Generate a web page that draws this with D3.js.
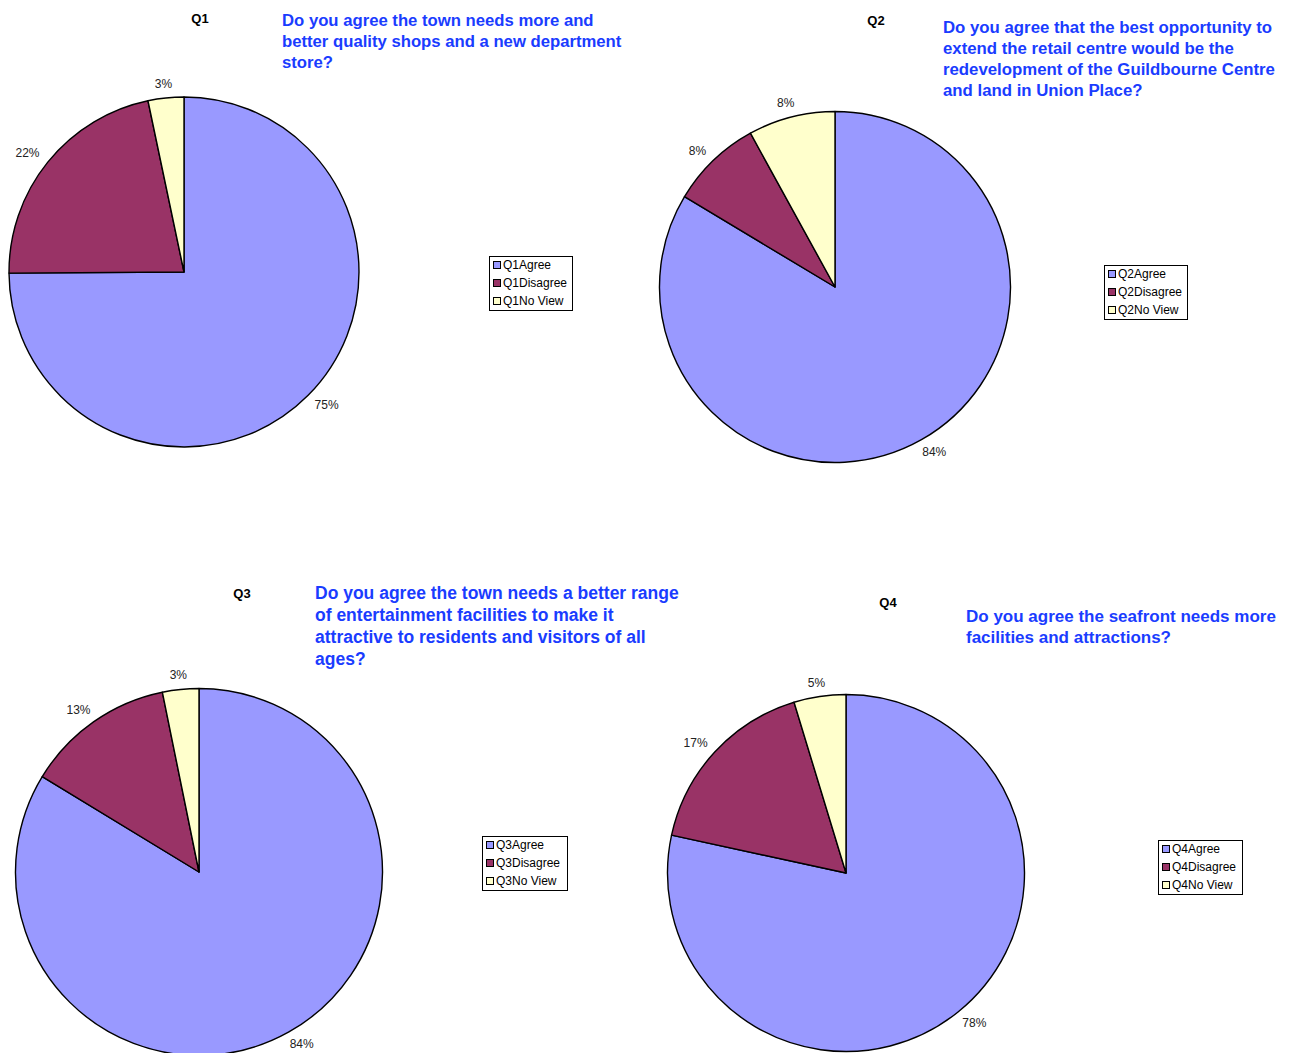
<!DOCTYPE html>
<html>
<head>
<meta charset="utf-8">
<script src="https://cdn.jsdelivr.net/npm/d3@7"></script>
<style>
  html, body { margin: 0; padding: 0; background: #fff; }
  svg { display: block; }
</style>
</head>
<body>
<svg id="chart" width="1294" height="1053"></svg>
<script>
// ---- data ----
const questions = ["Q1", "Q2", "Q3", "Q4"];
const answerKinds = ["Agree", "Disagree", "No View"];
const q1Values = [74.9, 21.8, 3.3];
const q2Values = [83.6, 8.4, 8.0];
const q3Values = [83.7, 13.1, 3.2];
const q4Values = [78.4, 16.9, 4.7];
const q1Question = ["Do you agree the town needs more and", "better quality shops and a new department", "store?"];
const q2Question = ["Do you agree that the best opportunity to", "extend the retail centre would be the", "redevelopment of the Guildbourne Centre", "and land in Union Place?"];
const q3Question = ["Do you agree the town needs a better range", "of entertainment facilities to make it", "attractive to residents and visitors of all", "ages?"];
const q4Question = ["Do you agree the seafront needs more", "facilities and attractions?"];

const allValues = [q1Values, q2Values, q3Values, q4Values];
const allQuestions = [q1Question, q2Question, q3Question, q4Question];

// ---- layout (positions / styles) ----
const layouts = [
  { cx: 184, cy: 272, r: 175, tagX: 200, tagY: 18, qx: 282, qy: 20, qSize: 16.7, qLead: 21, lx: 489, ly: 256, lw: 83 },
  { cx: 835, cy: 287, r: 175.5, tagX: 876, tagY: 20, qx: 943, qy: 27, qSize: 16.8, qLead: 21, lx: 1104, ly: 265, lw: 83 },
  { cx: 199, cy: 872, r: 183.5, tagX: 242, tagY: 593, qx: 315, qy: 593, qSize: 17.5, qLead: 22, lx: 482, ly: 836, lw: 85 },
  { cx: 846, cy: 873, r: 178.5, tagX: 888, tagY: 602, qx: 966, qy: 616, qSize: 17, qLead: 21, lx: 1158, ly: 840, lw: 84 }
];

const color = d3.scaleOrdinal().domain(answerKinds).range(["#9999FF", "#993366", "#FFFFCC"]);
const font = "Liberation Sans, Arial, sans-serif";
const svg = d3.select("#chart");

questions.forEach((q, i) => {
  const L = layouts[i];
  const vals = allValues[i];
  const total = d3.sum(vals);
  const data = answerKinds.map((k, j) => ({ kind: k, value: vals[j] }));

  const pie = d3.pie().sort(null).value(d => d.value);
  const arcs = pie(data);
  const arc = d3.arc().innerRadius(0).outerRadius(L.r);
  const labelArc = d3.arc().innerRadius(L.r + 14).outerRadius(L.r + 14);

  const g = svg.append("g").attr("transform", `translate(${L.cx},${L.cy})`);
  g.selectAll("path").data(arcs).join("path")
    .attr("d", arc)
    .attr("fill", d => color(d.data.kind))
    .attr("stroke", "#000")
    .attr("stroke-width", 1.4)
    .attr("stroke-linejoin", "round");

  g.selectAll("text.pct").data(arcs).join("text")
    .attr("class", "pct")
    .attr("text-anchor", "middle")
    .attr("dominant-baseline", "central")
    .attr("font-family", font)
    .attr("font-size", 12)
    .attr("fill", "#222")
    .text(d => d3.format(".0%")(d.data.value / total))
    .attr("transform", function(d) {
      const [x, y] = labelArc.centroid(d);
      const mid = (d.startAngle + d.endAngle) / 2;
      const w = this.getComputedTextLength();
      return `translate(${x + Math.sin(mid) * w / 2},${y})`;
    });

  // Q tag
  svg.append("text")
    .attr("x", L.tagX).attr("y", L.tagY)
    .attr("text-anchor", "middle")
    .attr("dominant-baseline", "central")
    .attr("font-family", font)
    .attr("font-weight", "bold")
    .attr("font-size", 13)
    .attr("fill", "#000")
    .text(q);

  // Question text
  const qt = svg.append("text")
    .attr("font-family", font)
    .attr("font-weight", "bold")
    .attr("font-size", L.qSize)
    .attr("fill", "#1a3cff");
  allQuestions[i].forEach((line, k) => {
    qt.append("tspan")
      .attr("x", L.qx)
      .attr("y", L.qy + k * L.qLead)
      .attr("dominant-baseline", "central")
      .text(line);
  });

  // Legend
  const lg = svg.append("g").attr("transform", `translate(${L.lx},${L.ly})`);
  lg.append("rect")
    .attr("x", 0.5).attr("y", 0.5)
    .attr("width", L.lw).attr("height", 54)
    .attr("fill", "#fff").attr("stroke", "#000").attr("stroke-width", 1);
  answerKinds.forEach((k, j) => {
    const row = lg.append("g").attr("transform", `translate(0,${9 + j * 18})`);
    row.append("rect")
      .attr("x", 4.5).attr("y", -3.5)
      .attr("width", 7).attr("height", 7)
      .attr("fill", color(k)).attr("stroke", "#000").attr("stroke-width", 1);
    row.append("text")
      .attr("x", 14).attr("y", 0)
      .attr("dominant-baseline", "central")
      .attr("font-family", font)
      .attr("font-size", 12)
      .attr("fill", "#000")
      .text(q + k);
  });
});
</script>
</body>
</html>
